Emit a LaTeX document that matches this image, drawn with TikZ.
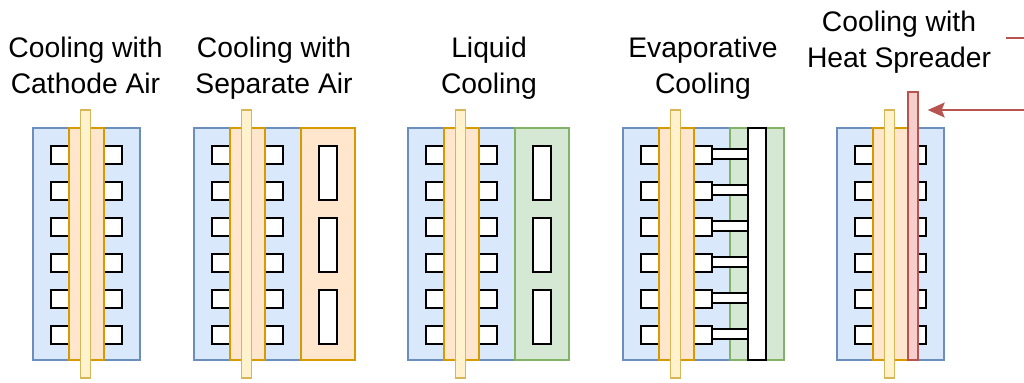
\documentclass[tikz,border=0pt]{standalone}
\usepackage{fontspec}
\setmainfont{Liberation Sans}
\usetikzlibrary{arrows.meta,positioning}
\definecolor{cellblue}{HTML}{DAE8FC}
\definecolor{cellblueline}{HTML}{6C8EBF}
\definecolor{plateorange}{HTML}{FFE6CC}
\definecolor{plateorangeline}{HTML}{D79B00}
\definecolor{membyellow}{HTML}{FFF2CC}
\definecolor{membyellowline}{HTML}{D6B656}
\definecolor{coolgreen}{HTML}{D5E8D4}
\definecolor{coolgreenline}{HTML}{82B366}
\definecolor{spreadred}{HTML}{F8CECC}
\definecolor{spreadredline}{HTML}{B85450}
\tikzset{
  cell/.style={fill=cellblue, draw=cellblueline, line width=0.8pt},
  plate/.style={fill=plateorange, draw=plateorangeline, line width=0.8pt},
  memb/.style={fill=membyellow, draw=membyellowline, line width=0.8pt},
  coolant/.style={fill=coolgreen, draw=coolgreenline, line width=0.8pt},
  channel/.style={fill=white, draw=black, line width=0.9pt},
  title/.style={text=black, font=\fontsize{16.1}{20.1}\selectfont, align=center, anchor=base},
  spreadbar/.style={fill=spreadred, draw=spreadredline, line width=0.8pt, inner sep=0pt},
  feed/.style={-{Stealth[length=0.34cm,width=0.3cm,inset=0.06cm]}, spreadredline, line width=0.8pt},
}

\begin{document}
\begin{tikzpicture}[x=0.02cm,y=-0.02cm]
  \useasboundingbox (0,0) rectangle (1024,382);

  % fuel cell stack, same in all five panels
  \foreach \ox in {0,161,375,590,804}{
    \begin{scope}[shift={(\ox,0)}]
      \path[cell] (33,128) rectangle (140,360);
      \foreach \cy in {146,182,218,254,290,326}{
        \path[channel] (51,\cy) rectangle (69,\cy+18);
        \path[channel] (104,\cy) rectangle (122,\cy+18);
      }
      \path[plate] (69,128) rectangle (104,360);
      \path[memb] (80.5,110) rectangle (90.5,378);
    \end{scope}
  }

  % separate air
  \path[plate] (301,128) rectangle (355,360);
  \foreach \cy in {146,218,290}{
    \path[channel] (319,\cy) rectangle (337,\cy+54);
  }

  % liquid
  \path[coolant] (515,128) rectangle (569,360);
  \foreach \cy in {146,218,290}{
    \path[channel] (533,\cy) rectangle (551,\cy+54);
  }

  % evaporative
  \path[coolant] (730,128) rectangle (784,360);
  \foreach \cy in {146,182,218,254,290,326}{
    \path[channel] (712,\cy+3) rectangle (748,\cy+13);
  }
  \path[channel] (748,128) rectangle (766,360);

  % heat spreader
  \node[spreadbar, minimum width=0.2cm, minimum height=5.36cm] (spreader) at (913,226) {};
  \coordinate (feedstart) at (1024,110);
  \coordinate (feedend) at (1024,38);
  \coordinate (feedstub) at (1006,38);
  \draw[feed, shorten >=0.18cm] (feedstart) -- (spreader.east |- feedstart);
  \draw[spreadredline, line width=0.8pt] (feedstub) -- (feedend);

  \node[title] (aircath) at (85.5,93) {Cooling with\\Cathode Air};
  \node[title] (airsep) at (274,93) {Cooling with\\Separate Air};
  \node[title] (liquid) at (489,93) {Liquid\\Cooling};
  \node[title] (evap) at (703,93) {Evaporative\\Cooling};
  \node[title] (spread) at (899,67) {Cooling with\\Heat Spreader};
\end{tikzpicture}
\end{document}
